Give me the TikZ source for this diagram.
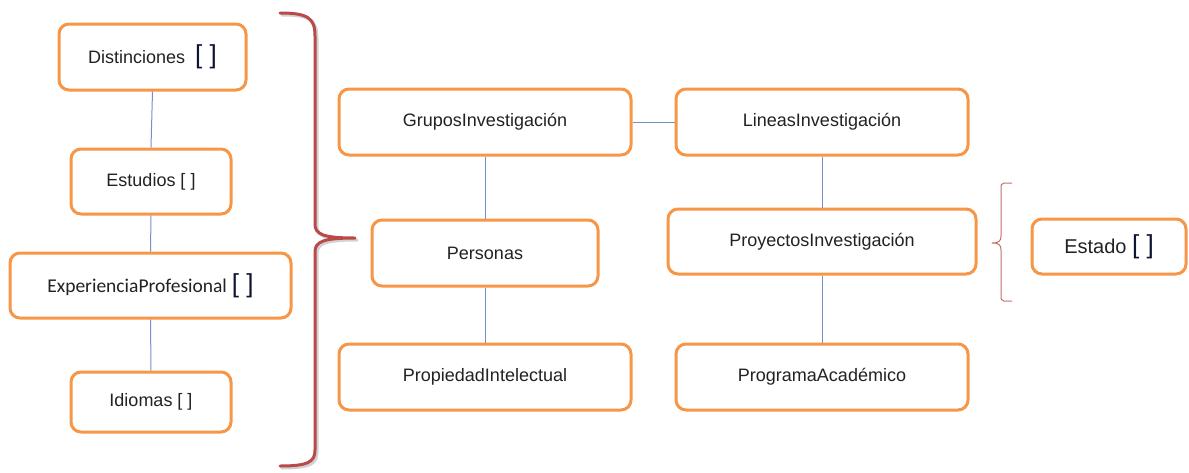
\documentclass[tikz,border=0pt]{standalone}
\usepackage{fontspec}
\setmainfont{Liberation Sans}
\newfontfamily\calfont{Carlito}
\definecolor{boxorange}{HTML}{F79646}
\definecolor{linkblue}{HTML}{6F93C8}
\definecolor{bracered}{HTML}{B94A48}
\definecolor{txt}{HTML}{222222}
\definecolor{brk}{HTML}{0E1530}
\newcommand\bigbrk{{\fontsize{26}{26}\selectfont\color{brk}[ ]}}
\begin{document}
\begin{tikzpicture}[x=1pt,y=-1pt,
  ent/.style={draw=boxorange, line width=3pt, rounded corners=10pt, fill=white,
    inner sep=0pt, text=txt, font=\fontsize{18}{20}\selectfont}]
\tikzset{link/.style={draw=linkblue, line width=1pt}}
\useasboundingbox (0,0) rectangle (1189,472);
% left column
\node[ent, minimum width=187pt, minimum height=66pt] (dist) at (152.5,57) {Distinciones\hspace{10pt}\bigbrk};
\node[ent, minimum width=160pt, minimum height=65pt] (est) at (151,181.5) {Estudios [ ]};
\node[ent, minimum width=281pt, minimum height=65pt] (exp) at (150.5,285.5) {{\calfont\fontsize{19.5}{21}\selectfont ExperienciaProfesional} \bigbrk};
\node[ent, minimum width=160pt, minimum height=60pt] (idi) at (151,402) {Idiomas [ ]};
% middle
\node[ent, minimum width=292pt, minimum height=66pt] (grupos) at (485,122) {GruposInvestigación};
\node[ent, minimum width=292pt, minimum height=66pt] (lineas) at (822,122) {LineasInvestigación};
\node[ent, minimum width=226pt, minimum height=66pt] (pers) at (485,253) {Personas};
\node[ent, minimum width=308pt, minimum height=65pt] (proy) at (822,241.5) {ProyectosInvestigación};
\node[ent, minimum width=292pt, minimum height=66pt] (prop) at (485,377) {PropiedadIntelectual};
\node[ent, minimum width=292pt, minimum height=66pt] (prog) at (822,377) {ProgramaAcadémico};
\node[ent, minimum width=154pt, minimum height=55pt, font=\fontsize{20}{22}\selectfont] (estado) at (1109,246.5) {Estado \bigbrk};
% connectors
\draw[link] (dist.south) -- (est.north);
\draw[link] (est.south) -- (exp.north);
\draw[link] (exp.south) -- (idi.north);
\draw[link] (grupos.east) -- (lineas.west);
\draw[link] (grupos.south) -- (pers.north);
\draw[link] (pers.south) -- (prop.north);
\draw[link] (lineas.south) -- (proy.north);
\draw[link] (proy.south) -- (prog.north);
% big brace (shadow + stroke)
\draw[gray!35, line width=3pt, line cap=round, line join=round, shift={(2,2)}]
  (280,13) .. controls (308,13) and (315,18) .. (315,36) -- (315,224)
  .. controls (315,234) and (322,238) .. (355,238)
  .. controls (322,238) and (315,242) .. (315,252) -- (315,450)
  .. controls (315,462) and (308,466) .. (280,466);
\draw[bracered, line width=3pt, line cap=round, line join=round]
  (280,13) .. controls (308,13) and (315,18) .. (315,36) -- (315,224)
  .. controls (315,234) and (322,238) .. (355,238)
  .. controls (322,238) and (315,242) .. (315,252) -- (315,450)
  .. controls (315,462) and (308,466) .. (280,466);
% small brace
\draw[bracered!80, line width=1pt, line join=round]
  (1012,183) -- (1004,183) .. controls (1001,183) and (1001,185) .. (1001,190) -- (1001,236)
  .. controls (1001,241) and (999,243) .. (992,243)
  .. controls (999,243) and (1001,245) .. (1001,250) -- (1001,295)
  .. controls (1001,299) and (1001,301) .. (1004,301) -- (1012,301);
\end{tikzpicture}
\end{document}
